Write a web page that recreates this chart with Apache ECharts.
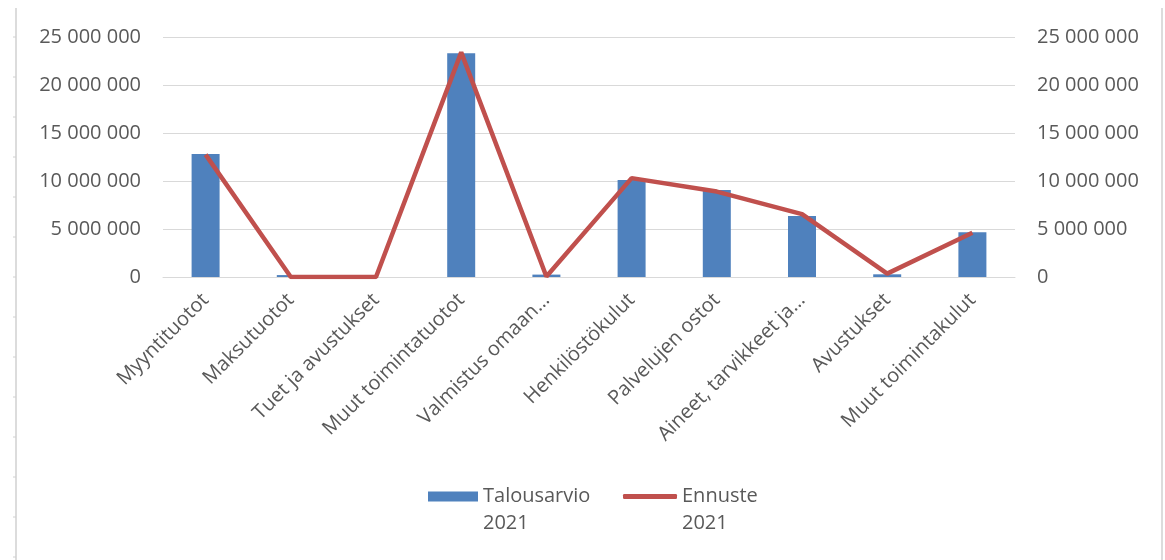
<!DOCTYPE html>
<html><head><meta charset="utf-8">
<script src="https://cdn.jsdelivr.net/npm/echarts@6/dist/echarts.min.js"></script>
<style>html,body{margin:0;padding:0;background:#fff}#c{width:1165px;height:560px}</style>
</head><body><div id="c"></div>
<script>
const categories = ["Myyntituotot","Maksutuotot","Tuet ja avustukset","Muut toimintatuotot","Valmistus omaan…","Henkilöstökulut","Palvelujen ostot","Aineet, tarvikkeet ja…","Avustukset","Muut toimintakulut"];
const budget2021 = [12800000, 200000, 0, 23300000, 250000, 10100000, 9050000, 6350000, 280000, 4650000];
const forecast2021 = [12750000, 0, 0, 23400000, 50000, 10300000, 8900000, 6550000, 350000, 4600000];
const seriesNames = ["Talousarvio 2021", "Ennuste 2021"];
const yTicks = {min: 0, max: 25000000, interval: 5000000};

const fmt = v => String(Math.round(v)).replace(/\B(?=(\d{3})+(?!\d))/g, ' ');
const FONT = 'Open Sans';
const grey = '#595959';
const FS = 20;

const chart = echarts.init(document.getElementById('c'));
const borderTicks = [];
for (let y = 37; y < 560; y += 40) borderTicks.push({type:'line', shape:{x1:13,y1:y,x2:16,y2:y}, style:{stroke:'#d0d0d0', lineWidth:1}});
const legendText = {fontSize: FS, color: grey, fontFamily: FONT, lineHeight: 27};
const legendFmt = n => ' \n' + n.replace(' ', '\n');
chart.setOption({
  animation: false,
  textStyle: {fontFamily: FONT},
  grid: {left: 163, right: 150, top: 37, bottom: 283},
  legend: [
    {data: [seriesNames[0]], top: 456, left: 428, padding: 0, itemWidth: 50, itemHeight: 10, itemGap: 8,
     icon: 'rect', formatter: legendFmt, textStyle: legendText},
    {data: [seriesNames[1]], top: 456, left: 623, padding: 0, itemWidth: 54, itemHeight: 5, itemGap: 5,
     icon: 'roundRect', formatter: legendFmt, textStyle: legendText}
  ],
  xAxis: {
    type: 'category', data: categories,
    axisTick: {show: false},
    axisLine: {lineStyle: {color: '#d9d9d9'}},
    axisLabel: {rotate: 45, interval: 0, color: grey, fontSize: FS, margin: 20}
  },
  yAxis: [
    {type: 'value', min: yTicks.min, max: yTicks.max, interval: yTicks.interval,
     axisLabel: {formatter: fmt, color: grey, fontSize: FS, margin: 22},
     splitLine: {lineStyle: {color: '#d9d9d9'}}, axisLine: {show: false}},
    {type: 'value', min: yTicks.min, max: yTicks.max, interval: yTicks.interval,
     axisLabel: {formatter: fmt, color: grey, fontSize: FS, margin: 22},
     splitLine: {show: false}, axisLine: {show: false}}
  ],
  series: [
    {name: seriesNames[0], type: 'bar', data: budget2021, barWidth: 28, itemStyle: {color: '#4F81BD'}},
    {name: seriesNames[1], type: 'line', yAxisIndex: 1, data: forecast2021, showSymbol: false, symbol: 'none',
     lineStyle: {color: '#C0504D', width: 4.5}, itemStyle: {color: '#C0504D'}}
  ],
  graphic: [
    {type:'line', shape:{x1:16,y1:8,x2:16,y2:560}, style:{stroke:'#d0d0d0', lineWidth:1.5}},
    {type:'line', shape:{x1:1162,y1:8,x2:1162,y2:560}, style:{stroke:'#d0d0d0', lineWidth:1.5}},
    ...borderTicks
  ]
});
</script></body></html>
